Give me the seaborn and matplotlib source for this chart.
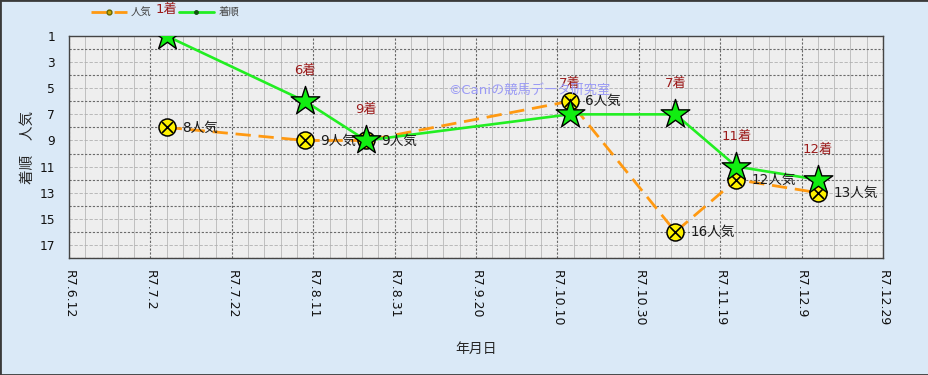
import matplotlib
matplotlib.use("Agg")
import matplotlib.pyplot as plt
import matplotlib.dates as mdates
from matplotlib.ticker import FixedLocator
from matplotlib.lines import Line2D
from matplotlib.patches import Rectangle
import seaborn as sns
import pandas as pd

# ---- data ----
race_dates = ["2025-07-06", "2025-08-09", "2025-08-24", "2025-10-13",
              "2025-11-08", "2025-11-23", "2025-12-13"]
finish = [1, 6, 9, 7, 7, 11, 12]          # 着順
popularity = [8, 9, 9, 6, 16, 12, 13]     # 人気
tick_dates = ["2025-06-12", "2025-07-02", "2025-07-22", "2025-08-11", "2025-08-31",
              "2025-09-20", "2025-10-10", "2025-10-30", "2025-11-19", "2025-12-09",
              "2025-12-29"]
tick_labels = ["R7.6.12", "R7.7.2", "R7.7.22", "R7.8.11", "R7.8.31", "R7.9.20",
               "R7.10.10", "R7.10.30", "R7.11.19", "R7.12.9", "R7.12.29"]
y_ticks = [1, 3, 5, 7, 9, 11, 13, 15, 17]

sns.set_style("white")
plt.rcParams["font.family"] = ["DejaVu Sans", "Noto Sans CJK JP"]

df = pd.DataFrame({"date": pd.to_datetime(race_dates),
                   "finish": finish, "pop": popularity})

fig = plt.figure(figsize=(9.29, 3.75), dpi=100)
fig.patch.set_facecolor("#DAE9F7")
fig.patches.append(Rectangle((0, 0), 1, 1, transform=fig.transFigure, fill=False,
                             edgecolor="#3A3A3A", linewidth=2.0, zorder=10))
ax = fig.add_axes([0.0743, 0.312, 0.8762, 0.592])
ax.set_facecolor("#EEEEEE")

orange = "#FF9911"
green = "#22EE22"

sns.lineplot(data=df, x="date", y="pop", ax=ax, color=orange, linewidth=2.0,
             dashes=False, zorder=2, legend=False)
ax.lines[-1].set_dashes([5.5, 2.8])
sns.lineplot(data=df, x="date", y="finish", ax=ax, color=green, linewidth=1.9,
             zorder=3, legend=False)
sns.scatterplot(data=df, x="date", y="pop", ax=ax, marker="o", s=150,
                color="#FFF200", edgecolor="black", linewidth=1.1, zorder=4, legend=False)
sns.scatterplot(data=df, x="date", y="pop", ax=ax, marker="x", s=60,
                color="black", linewidth=1.2, zorder=4.5, legend=False)
sns.scatterplot(data=df, x="date", y="finish", ax=ax, marker="*", s=470,
                color="#11EE11", edgecolor="black", linewidth=1.0, zorder=5, legend=False)

for d, f, p in zip(df["date"], df["finish"], df["pop"]):
    off = 22 if f > 1 else 19
    ax.annotate(f"{f}着", (d, f), xytext=(0, off), textcoords="offset points",
                ha="center", va="center", fontsize=9.5, color="#9B1B1B",
                zorder=6, annotation_clip=False)
    ax.annotate(f"{p}人気", (d, p), xytext=(11, 0), textcoords="offset points",
                ha="left", va="center", fontsize=9.8, color="#1A1A1A", zorder=6)

# axes
ax.set_xlim(pd.Timestamp(tick_dates[0]), pd.Timestamp(tick_dates[-1]))
ax.set_ylim(18, 1)
ax.xaxis.set_major_locator(FixedLocator(mdates.date2num(pd.to_datetime(tick_dates))))
ax.set_xticklabels(tick_labels, rotation=-90, fontsize=9, va="top", ha="center",
                   color="#111111")
minor_x = pd.date_range(tick_dates[0], tick_dates[-1], freq="4D")
ax.xaxis.set_minor_locator(FixedLocator(mdates.date2num(minor_x)))
ax.set_yticks(y_ticks)
ax.set_yticklabels([str(v) for v in y_ticks], fontsize=8.8, color="#111111")
ax.yaxis.set_minor_locator(FixedLocator([2, 4, 6, 8, 10, 12, 14, 16, 18]))

ax.grid(which="major", axis="x", color="#666666", linestyle=(0, (2, 1.5)), linewidth=0.8)
ax.grid(which="minor", axis="x", color="#B8B8B8", linestyle="-", linewidth=0.6)
ax.grid(which="major", axis="y", color="#B0B0B0", linestyle=(0, (4, 2)), linewidth=0.6)
ax.grid(which="minor", axis="y", color="#6A6A6A", linestyle=(0, (2, 1.5)), linewidth=0.8)
ax.tick_params(axis="y", which="major", length=4, width=0.8, color="#333333", pad=6)
ax.tick_params(axis="x", which="major", length=0, pad=9)
ax.tick_params(which="minor", length=0)
for s in ax.spines.values():
    s.set_color("#444444")
    s.set_linewidth(1.0)

ax.set_xlabel("年月日", fontsize=10, labelpad=11)
ax.set_ylabel("着順　人気", fontsize=10.5, labelpad=3)

ax.text(0.566, 0.757, "©Caniの競馬データ研究室", transform=ax.transAxes,
        ha="center", va="center", fontsize=9.5, color="#9A9AF5", zorder=7)

handles = [
    Line2D([], [], color=orange, linewidth=2.0, dashes=[5.5, 2.8], marker="o",
           markersize=3.5, markerfacecolor="#CCAA00", markeredgecolor="#666600",
           markevery=[1]),
    Line2D([], [], color=green, linewidth=2.0, marker="o", markersize=2.5,
           markerfacecolor="#115511", markeredgecolor="#115511"),
]
fig.legend(handles, ["人気", "着順"], loc="upper left", bbox_to_anchor=(0.088, 1.005),
           ncol=2, frameon=False, fontsize=7.5, handlelength=3.4, columnspacing=2.6,
           handletextpad=0.4, labelcolor="#444444")

fig.savefig("out.png", dpi=100, facecolor=fig.get_facecolor())
